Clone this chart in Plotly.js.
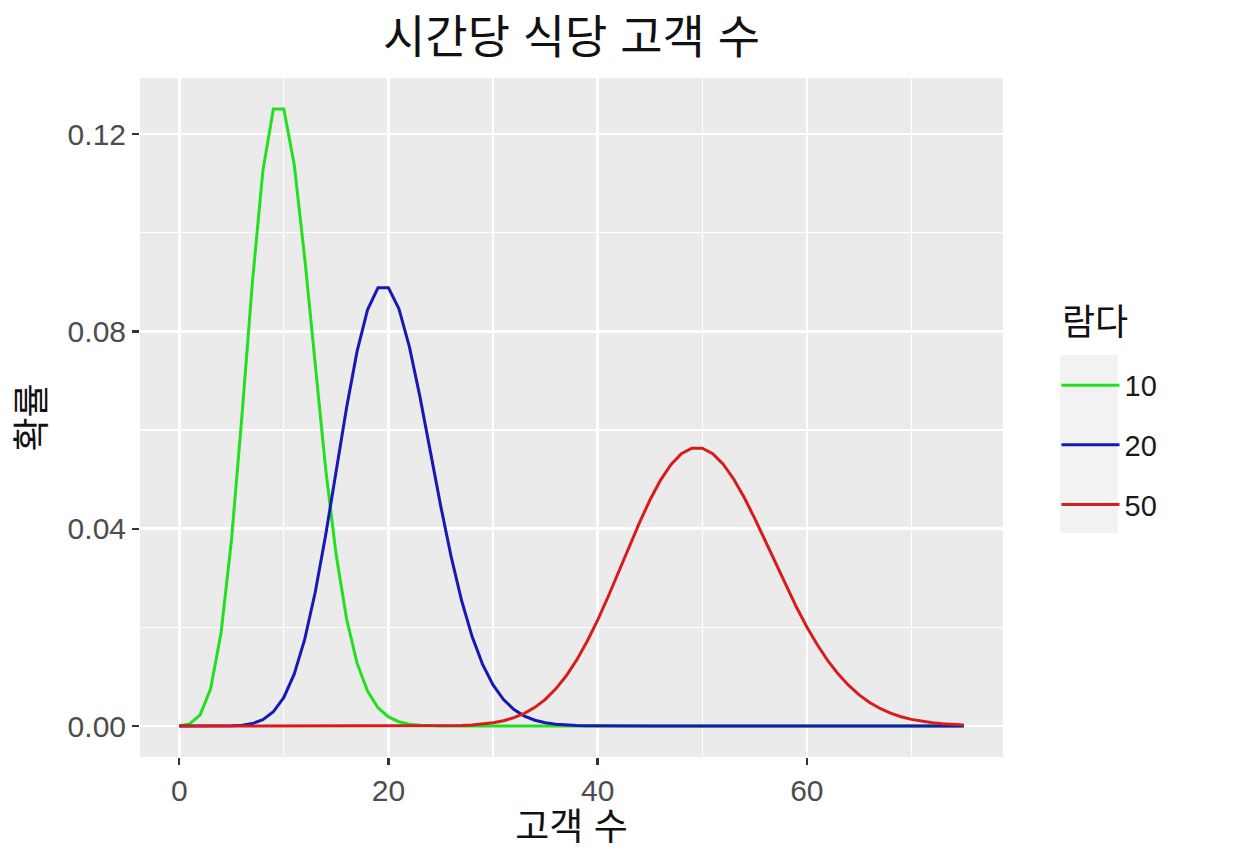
<!DOCTYPE html>
<html>
<head>
<meta charset="utf-8">
<script src="https://cdn.plot.ly/plotly-3.0.1.min.js"></script>
<style>html,body{margin:0;padding:0;background:#fff;}#chart{width:1234px;height:864px;}</style>
</head>
<body>
<div id="chart"></div>
<script>
// Customers per hour (x) and probabilities
const customers = [];
for (let k = 0; k <= 75; k++) customers.push(k);

const lambdaLabels = ["10", "20", "50"];
const legendTitle = "람다";

const probLambda10 = [
  0.00005, 0.00045, 0.00227, 0.00757, 0.01892, 0.03783, 0.06306, 0.09008, 0.11260, 0.12511,
  0.12511, 0.11374, 0.09478, 0.07291, 0.05208, 0.03472, 0.02170, 0.01276, 0.00709, 0.00373,
  0.00187, 0.00089, 0.00040, 0.00018, 0.00007, 0.00003, 0.00001, 0, 0, 0,
  0, 0, 0, 0, 0, 0, 0, 0, 0, 0,
  0, 0, 0, 0, 0, 0, 0, 0, 0, 0,
  0, 0, 0, 0, 0, 0, 0, 0, 0, 0,
  0, 0, 0, 0, 0, 0, 0, 0, 0, 0,
  0, 0, 0, 0, 0, 0
];

const probLambda20 = [
  0, 0, 0, 0.00001, 0.00001, 0.00005, 0.00018, 0.00052, 0.00131, 0.00291,
  0.00582, 0.01058, 0.01763, 0.02712, 0.03874, 0.05165, 0.06456, 0.07595, 0.08439, 0.08884,
  0.08884, 0.08461, 0.07691, 0.06688, 0.05573, 0.04459, 0.03430, 0.02541, 0.01815, 0.01252,
  0.00834, 0.00538, 0.00336, 0.00204, 0.00120, 0.00069, 0.00038, 0.00021, 0.00011, 0.00006,
  0.00003, 0.00001, 0, 0, 0, 0, 0, 0, 0, 0,
  0, 0, 0, 0, 0, 0, 0, 0, 0, 0,
  0, 0, 0, 0, 0, 0, 0, 0, 0, 0,
  0, 0, 0, 0, 0, 0
];

const probLambda50 = [
  0, 0, 0, 0, 0, 0, 0, 0, 0, 0,
  0, 0, 0, 0, 0, 0, 0, 0, 0, 0,
  0, 0, 0, 0.00001, 0.00002, 0.00004, 0.00007, 0.00013, 0.00024, 0.00041,
  0.00068, 0.00109, 0.00171, 0.00259, 0.00380, 0.00543, 0.00755, 0.01020, 0.01342, 0.01720,
  0.02150, 0.02622, 0.03121, 0.03630, 0.04125, 0.04583, 0.04981, 0.05299, 0.05520, 0.05633,
  0.05633, 0.05523, 0.05310, 0.05010, 0.04639, 0.04217, 0.03765, 0.03303, 0.02847, 0.02413,
  0.02011, 0.01648, 0.01329, 0.01055, 0.00824, 0.00634, 0.00480, 0.00358, 0.00264, 0.00191,
  0.00137, 0.00096, 0.00067, 0.00046, 0.00031, 0.00021
];

const seriesValues = [probLambda10, probLambda20, probLambda50];
const seriesColors = ["#22e01e", "#1818b4", "#d81c1c"];

const xTickVals = [0, 20, 40, 60];
const yTickVals = [0, 0.04, 0.08, 0.12];

const FONT = "Liberation Sans, Arial, 'Noto Sans CJK KR', sans-serif";

const traces = lambdaLabels.map((lab, i) => ({
  type: "scatter",
  mode: "lines",
  x: customers,
  y: seriesValues[i],
  name: lab,
  legendgroup: "g" + lab,
  line: {color: seriesColors[i], width: 3},
  hoverinfo: "x+y+name"
}));

const layout = {
  width: 1234,
  height: 864,
  paper_bgcolor: "#ffffff",
  plot_bgcolor: "#ebebeb",
  margin: {l: 140, r: 231, t: 78, b: 107, pad: 0},
  font: {family: FONT, color: "#1a1a1a"},
  title: {
    text: "시간당 식당 고객 수",
    font: {family: FONT, size: 46, color: "#111111"},
    x: 0.5, xanchor: "center", xref: "paper",
    y: 0.957, yanchor: "middle"
  },
  xaxis: {
    range: [-3.75, 78.75],
    tickvals: xTickVals,
    ticktext: xTickVals.map(String),
    showgrid: true, gridcolor: "#ffffff", gridwidth: 2.6,
    minor: {dtick: 10, tick0: 10, showgrid: true, gridcolor: "#ffffff", gridwidth: 1.3, ticks: ""},
    zeroline: false, showline: false,
    ticks: "outside", ticklen: 7, tickwidth: 2.4, tickcolor: "#333333",
    tickfont: {family: FONT, size: 30, color: "#4d4d4d"},
    title: {text: "고객 수", font: {family: FONT, size: 37, color: "#111111"}, standoff: 6}
  },
  yaxis: {
    range: [-0.00626, 0.13137],
    tickvals: yTickVals,
    ticktext: yTickVals.map(v => v.toFixed(2)),
    showgrid: true, gridcolor: "#ffffff", gridwidth: 2.6,
    minor: {dtick: 0.04, tick0: 0.02, showgrid: true, gridcolor: "#ffffff", gridwidth: 1.3, ticks: ""},
    zeroline: false, showline: false,
    ticks: "outside", ticklen: 7, tickwidth: 2.4, tickcolor: "#333333",
    tickfont: {family: FONT, size: 30, color: "#4d4d4d"},
    title: {text: "확률", font: {family: FONT, size: 37, color: "#111111"}, standoff: 10}
  },
  showlegend: true,
  legend: {
    x: 1.062, xanchor: "left",
    y: 0.585, yanchor: "top",
    bgcolor: "rgba(0,0,0,0)",
    borderwidth: 0,
    traceorder: "grouped",
    tracegroupgap: 19,
    itemwidth: 58,
    font: {family: FONT, size: 29, color: "#1a1a1a"}
  },
  annotations: [{
    text: legendTitle, xref: "paper", yref: "paper",
    x: (1060 - 140) / 863, xanchor: "left",
    y: (757 - 322) / 679, yanchor: "middle",
    showarrow: false,
    font: {family: FONT, size: 36, color: "#111111"}
  }],
  shapes: [{
    type: "rect", xref: "paper", yref: "paper",
    x0: 1.066, x1: 1.133, y0: 0.330, y1: 0.592,
    fillcolor: "#f2f2f2", line: {width: 0}, layer: "below"
  }]
};

Plotly.newPlot("chart", traces, layout, {displayModeBar: false, staticPlot: true});
</script>
</body>
</html>
